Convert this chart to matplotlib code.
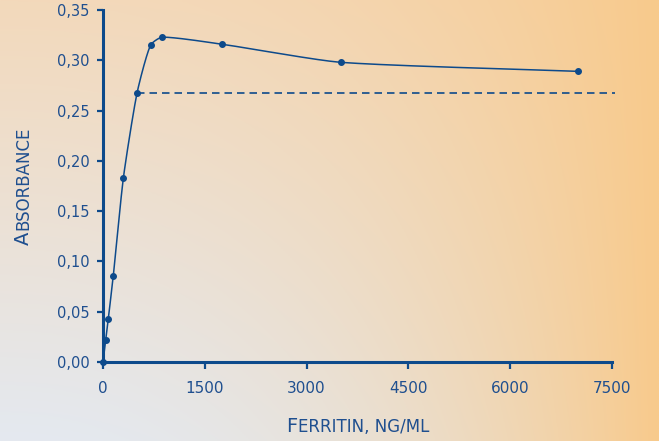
import matplotlib
matplotlib.use("Agg")
import matplotlib.pyplot as plt
import numpy as np

# ferritin standards (ng/mL) and measured absorbance
ferritin = [0, 39, 78, 152, 300, 500, 700, 875, 1750, 3500, 7000]
absorbance = [0.000, 0.022, 0.043, 0.086, 0.183, 0.267, 0.315, 0.323, 0.316, 0.298, 0.289]
plateau_start = 500
plateau_end = 7550
plateau_level = 0.267

x_ticks = [0, 1500, 3000, 4500, 6000, 7500]
y_ticks = [0.00, 0.05, 0.10, 0.15, 0.20, 0.25, 0.30, 0.35]
y_tick_labels = ["0,00", "0,05", "0,10", "0,15", "0,20", "0,25", "0,30", "0,35"]

navy = "#0d4a8b"
txt = "#1f4f8f"


def smooth_path(px, py, k=0.2, n=40):
    # rounded polyline through the points: cubic bezier per segment,
    # tangent along neighbour chord, handle length proportional to segment
    P = np.column_stack([px, py]).astype(float)
    d = np.zeros_like(P)
    for i in range(len(P)):
        a = P[max(i - 1, 0)]
        b = P[min(i + 1, len(P) - 1)]
        v = b - a
        d[i] = v / np.linalg.norm(v)
    out = []
    t = np.linspace(0, 1, n)[:, None]
    for i in range(len(P) - 1):
        L = np.linalg.norm(P[i + 1] - P[i])
        c1 = P[i] + d[i] * L * k
        c2 = P[i + 1] - d[i + 1] * L * k
        b = ((1 - t) ** 3) * P[i] + 3 * ((1 - t) ** 2) * t * c1 + 3 * (1 - t) * t**2 * c2 + t**3 * P[i + 1]
        out.append(b)
    c = np.vstack(out)
    return c[:, 0], c[:, 1]


W, H = 659, 441
fig = plt.figure(figsize=(W / 100, H / 100), dpi=100)

# background gradient
gx = np.linspace(0, 1, 300)[None, :]
gy = np.linspace(0, 1, 200)[:, None]
top_left = np.array([243, 217, 187]) / 255
bot_left = np.array([228, 233, 240]) / 255
right = np.array([248, 202, 140]) / 255
left_col = top_left[None, None, :] * (1 - gy[..., None]) + bot_left[None, None, :] * gy[..., None]
t = (gx ** 2.1)[..., None]
img = left_col * (1 - t) + right[None, None, :] * t
bg = fig.add_axes([0, 0, 1, 1], zorder=-1)
bg.imshow(img, aspect="auto", extent=[0, 1, 0, 1])
bg.axis("off")

ax = fig.add_axes([103 / W, (H - 362) / H, (612 - 103) / W, (362 - 10) / H])
ax.set_facecolor("none")
ax.set_xlim(0, 7500)
ax.set_ylim(0, 0.35)

# curve built in screen-proportional units so the bends look right
sx = np.array(ferritin) / 7500 * 509
sy = np.array(absorbance) / 0.35 * 352
cx, cy = smooth_path(sx, sy)
ax.plot(cx / 509 * 7500, cy / 352 * 0.35, color=navy, lw=1.1, clip_on=False)
ax.plot(ferritin, absorbance, "o", color=navy, ms=4, clip_on=False, zorder=5)
ax.hlines(plateau_level, plateau_start, plateau_end, colors=navy, lw=1.2,
          linestyles=(0, (4.5, 3)), clip_on=False)

ax.set_xticks(x_ticks)
ax.set_xticklabels([str(v) for v in x_ticks])
ax.set_yticks(y_ticks)
ax.set_yticklabels(y_tick_labels)

for s in ["top", "right"]:
    ax.spines[s].set_visible(False)
for s in ["left", "bottom"]:
    ax.spines[s].set_color(navy)
    ax.spines[s].set_linewidth(2.2)
ax.tick_params(axis="y", direction="out", length=4.5, width=1.6, color=navy,
               labelcolor=txt, labelsize=10.5, pad=5)
ax.tick_params(axis="x", direction="out", length=5, width=1.6, color=navy,
               labelcolor=txt, labelsize=11, pad=9)

# small-caps style axis labels, centred on the axes
fig.canvas.draw()
r = fig.canvas.get_renderer()
big, small = 14, 12

f1 = fig.text(0, 9.3 / H, "F", fontsize=big, color=txt, ha="left", va="baseline")
f2 = fig.text(0, 9.3 / H, "ERRITIN, NG/ML", fontsize=small, color=txt, ha="left", va="baseline")
w1 = f1.get_window_extent(r).width
w2 = f2.get_window_extent(r).width
x0 = 357.5 - (w1 + w2 + 1) / 2
f1.set_x(x0 / W)
f2.set_x((x0 + w1 + 1) / W)

a1 = fig.text(28.5 / W, 0, "A", fontsize=big, color=txt, rotation=90,
              rotation_mode="anchor", ha="left", va="baseline")
a2 = fig.text(28.5 / W, 0, "BSORBANCE", fontsize=small, color=txt, rotation=90,
              rotation_mode="anchor", ha="left", va="baseline")
h1 = a1.get_window_extent(r).height
h2 = a2.get_window_extent(r).height
y0 = (H - 186) - (h1 + h2 + 1) / 2
a1.set_y(y0 / H)
a2.set_y((y0 + h1 + 1) / H)

fig.savefig("out.png", dpi=100)
